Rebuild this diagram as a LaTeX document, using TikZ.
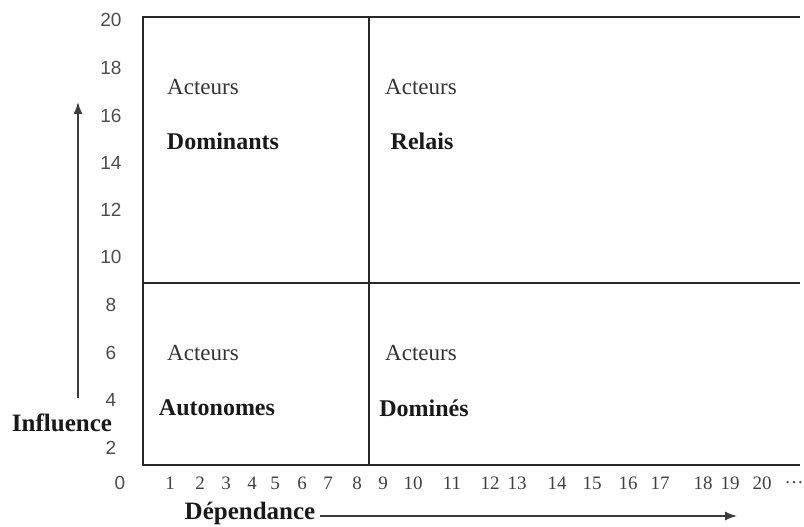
\documentclass[tikz,border=0pt]{standalone}
\usepackage{fontspec}
\setmainfont{Liberation Serif}
\newfontfamily\numfont{Liberation Sans}
\usepackage{tikz}
\usetikzlibrary{arrows.meta,positioning}
\definecolor{frame}{RGB}{40, 40, 40}
\definecolor{axis}{RGB}{60, 60, 60}
\tikzstyle{quad} = [draw=frame, line width=1.5pt]
\tikzstyle{actor} = [draw=none, fill=none, text centered, font=\fontsize{23}{26}\selectfont, text=black!80]
\tikzstyle{kind} = [draw=none, fill=none, text centered, font=\fontsize{24}{28}\selectfont\bfseries, text=black!90]
\tikzstyle{ytick} = [draw=none, fill=none, text centered, font=\numfont\fontsize{19}{22}\selectfont, text=black!70]
\tikzstyle{xtick} = [draw=none, fill=none, text centered, font=\fontsize{19}{22}\selectfont, text=black!75]
\tikzstyle{axlabel} = [draw=none, fill=none, text centered, font=\fontsize{25}{29}\selectfont\bfseries, text=black!90]
\tikzstyle{tedge}  = [draw=axis, line width=1.5pt, -{Latex[length=12pt,width=9pt]}]

\begin{document}
\begin{tikzpicture}[x=1pt, y=-1pt]
\useasboundingbox (0,0) rectangle (804,527);

% frame =============================
\coordinate (tl) at (143,17);
\coordinate (tr) at (800,17);
\coordinate (bl) at (143,465);
\coordinate (br) at (800,465);
\coordinate (mt) at (369,17);
\coordinate (mb) at (369,465);
\coordinate (ml) at (143,283);
\coordinate (mr) at (800,283);

\draw[quad] (tr) -- (tl) -- (bl) -- (br);
\draw[quad] (mt) -- (mb);
\draw[quad] (ml) -- (mr);

% quadrants
\node[actor] (act1) at (203,87) {Acteurs};
\node[kind, below=54pt of act1.center, anchor=center, xshift=20pt] (dom) {Dominants};
\node[actor] (act2) at (421,87) {Acteurs};
\node[kind, below=54pt of act2.center, anchor=center, xshift=1pt] (rel) {Relais};
\node[actor] (act3) at (203,353) {Acteurs};
\node[kind, below=55pt of act3.center, anchor=center, xshift=14pt] (aut) {Autonomes};
\node[actor] (act4) at (421,353) {Acteurs};
\node[kind, below=55pt of act4.center, anchor=center, xshift=3pt] (dmn) {Dominés};

% scales
\foreach \v/\y in {20/20, 18/68, 16/116, 14/163, 12/210, 10/257, 8/305, 6/353, 4/400, 2/448}
  \node[ytick] (y\v) at (111,\y) {\v};
\node[ytick] (y0) at (120,483) {0};

\foreach \v/\x in {1/170, 2/200, 3/226, 4/252, 5/275, 6/302, 7/328, 8/357, 9/383, 10/413,
                   11/452, 12/490, 13/517, 14/557, 15/592, 16/628, 17/660, 18/703, 19/730, 20/762}
  \node[xtick] (x\v) at (\x,483) {\v};
\node[xtick] (xdots) at (794,483) {\dots};

% axes
\node[axlabel] (infl) at (62,423) {Influence};
\coordinate (inflbot) at (78,398);
\coordinate (infltop) at (78,102);
\path[tedge] (inflbot) -- (infltop);

\node[axlabel] (dep) at (250,513) {Dépendance};
\coordinate (depstart) at (320,516);
\coordinate (depend) at (737,516);
\path[tedge] (depstart) -- (depend);

\end{tikzpicture}
\end{document}
